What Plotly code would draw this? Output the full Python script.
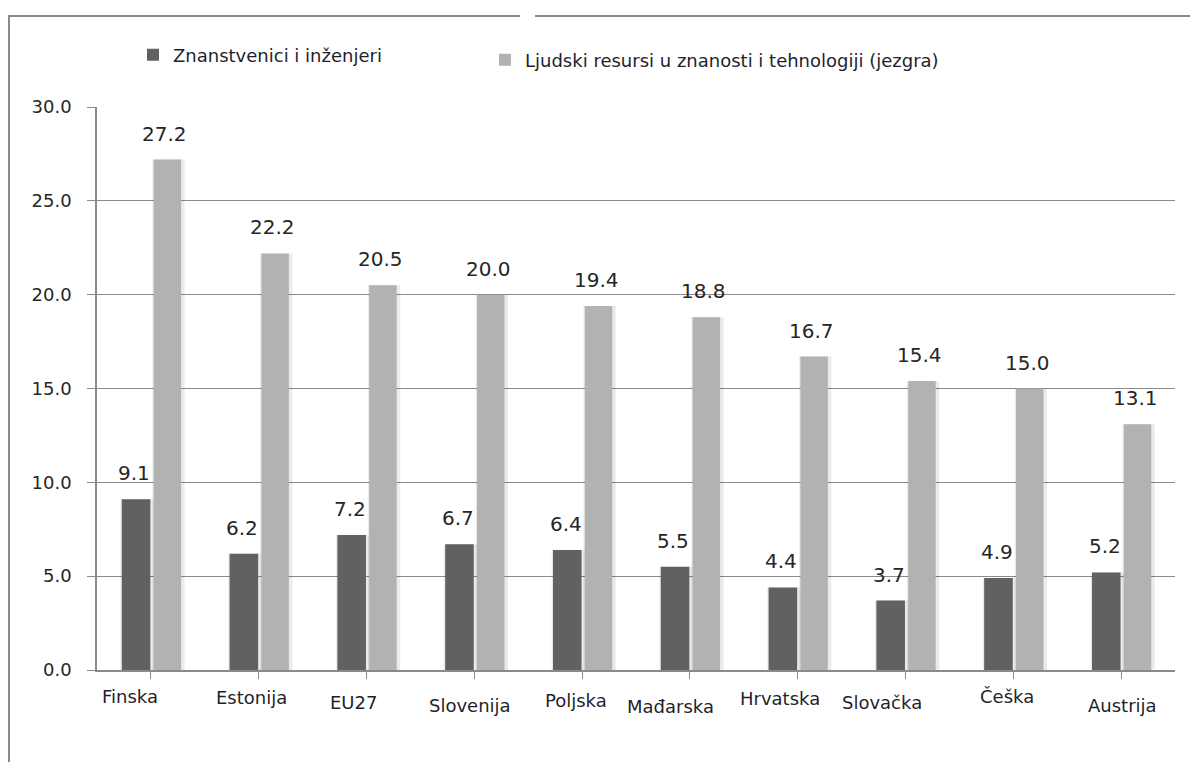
import plotly.graph_objects as go

# ---- data ----
categories = ["Finska", "Estonija", "EU27", "Slovenija", "Poljska",
              "Mađarska", "Hrvatska", "Slovačka", "Češka", "Austrija"]
scientists = [9.1, 6.2, 7.2, 6.7, 6.4, 5.5, 4.4, 3.7, 4.9, 5.2]
hrst_core = [27.2, 22.2, 20.5, 20.0, 19.4, 18.8, 16.7, 15.4, 15.0, 13.1]
series_names = ["Znanstvenici i inženjeri",
                "Ljudski resursi u znanosti i tehnologiji (jezgra)"]
y_ticks = [0, 5, 10, 15, 20, 25, 30]

# ---- style / layout constants ----
FONT = "DejaVu Sans"
DARK = "#616161"
LIGHT = "#b2b2b2"
GRID = "#8a8a8a"
TXT = "#262626"
LBL = "#1f1f2e"
# per-category label nudges (px) to mimic the original's placement
label_dx = [-21, -7, -13, -4, -6, -19, -18, -24, -6, 1]
label_dy = [26, 27, 32, 35, 30, 36, 28, 32, 26, 35]

L, R, T, B = 97, 15, 107, 92
W, H = 1190, 762
pw, ph = W - L - R, H - T - B

def px2paper_x(px):
    return (px - L) / pw

def px2paper_y(py):
    return (H - B - py) / ph

xs = list(range(len(categories)))

fig = go.Figure()

# soft shadows behind bars
for vals, off, wd in [(scientists, -0.27, 0.265), (hrst_core, 0.025, 0.255)]:
    fig.add_trace(go.Bar(x=xs, y=vals, offset=off - 0.012, width=wd + 0.045,
                         marker=dict(color="rgba(0,0,0,0.08)", line=dict(width=0)),
                         showlegend=False, hoverinfo="skip"))

fig.add_trace(go.Bar(x=xs, y=scientists, name=series_names[0], offset=-0.27, width=0.265,
                     marker=dict(color=DARK, line=dict(width=0)), legend="legend"))
fig.add_trace(go.Bar(x=xs, y=hrst_core, name=series_names[1], offset=0.025, width=0.255,
                     marker=dict(color=LIGHT, line=dict(width=0)), legend="legend2"))

annotations = []
for i, c in enumerate(categories):
    annotations.append(dict(x=i, y=scientists[i], xref="x", yref="y", text=f"{scientists[i]:.1f}",
                            showarrow=False, xshift=-16.5, yshift=26,
                            font=dict(family=FONT, size=20, color=TXT)))
    annotations.append(dict(x=i, y=hrst_core[i], xref="x", yref="y", text=f"{hrst_core[i]:.1f}",
                            showarrow=False, xshift=14, yshift=26,
                            font=dict(family=FONT, size=20, color=TXT)))
    annotations.append(dict(x=i, y=0, xref="x", yref="y", text=c, showarrow=False,
                            xshift=label_dx[i], yshift=-label_dy[i], yanchor="middle",
                            font=dict(family=FONT, size=18, color=LBL)))

# outer frame lines (top with small gap, left side)
shapes = [
    dict(type="line", xref="paper", yref="paper", x0=px2paper_x(8), x1=px2paper_x(520),
         y0=px2paper_y(16), y1=px2paper_y(16), line=dict(color="#8a8a8a", width=2)),
    dict(type="line", xref="paper", yref="paper", x0=px2paper_x(535), x1=px2paper_x(1192),
         y0=px2paper_y(16), y1=px2paper_y(16), line=dict(color="#8a8a8a", width=2)),
    dict(type="line", xref="paper", yref="paper", x0=px2paper_x(9), x1=px2paper_x(9),
         y0=px2paper_y(16), y1=px2paper_y(765), line=dict(color="#8a8a8a", width=2)),
]

legend_common = dict(orientation="h", xanchor="left", yanchor="middle",
                     font=dict(family=FONT, size=18, color=LBL),
                     bgcolor="rgba(0,0,0,0)", itemclick=False, itemdoubleclick=False)

fig.update_layout(
    width=W, height=H,
    margin=dict(l=L, r=R, t=T, b=B),
    paper_bgcolor="white", plot_bgcolor="white",
    barmode="overlay",
    font=dict(family=FONT, color=TXT),
    showlegend=True,
    legend=dict(x=px2paper_x(133), y=px2paper_y(55), **legend_common),
    legend2=dict(x=px2paper_x(485), y=px2paper_y(60), **legend_common),
    xaxis=dict(range=[-0.5, len(categories) - 0.5], tickmode="array", tickvals=xs,
               ticktext=["" for _ in categories], tickson="boundaries",
               ticks="outside", ticklen=7, tickcolor=GRID, showline=True,
               linecolor=GRID, linewidth=1.5, showgrid=False, zeroline=False),
    yaxis=dict(range=[0, 30], tickmode="array", tickvals=y_ticks,
               ticktext=[f"{v:.1f}" for v in y_ticks], ticks="outside", ticklen=8,
               tickcolor=GRID, showline=True, linecolor=GRID, linewidth=1.5,
               showgrid=True, gridcolor=GRID, gridwidth=1.2, zeroline=False,
               ticklabelstandoff=12,
               tickfont=dict(family=FONT, size=18, color=TXT)),
    annotations=annotations,
    shapes=shapes,
)

fig.write_html("out.html", config={"displayModeBar": False},
               post_script="document.body.style.margin='0';document.body.style.overflow='hidden';")
